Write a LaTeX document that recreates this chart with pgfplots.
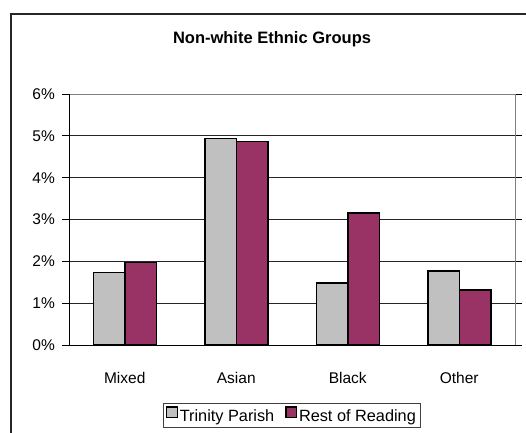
\documentclass[border=0pt]{standalone}
\usepackage{pgfplots}
\pgfplotsset{compat=1.18}
\usepackage{fontspec}
\setmainfont{Liberation Sans}
\definecolor{barGray}{HTML}{C0C0C0}
\definecolor{barMaroon}{HTML}{993366}
\begin{document}
\begin{tikzpicture}[x=1bp,y=1bp]
\useasboundingbox (0,0) rectangle (526,432);
\begin{scope}
\clip (0,0) rectangle (526,432);
\draw[line width=1.5bp, black!85] (11,418) rectangle (560,-20);
\end{scope}
\node[anchor=base, font=\fontsize{16.5bp}{19bp}\selectfont\bfseries] at (272,388.7) {Non-white Ethnic Groups};
\begin{axis}[
  at={(69bp,87bp)}, anchor=south west, scale only axis,
  width=446bp, height=251bp,
  xmin=-0.5, xmax=3.5, ymin=0, ymax=6,
  ybar=0pt, bar width=31.5bp,
  axis line style={draw=none},
  xtick={0,1,2,3},
  xticklabels={Mixed,Asian,Black,Other},
  xtick style={draw=none},
  extra x ticks={-0.5,0.5,1.5,2.5,3.5},
  extra x tick labels={},
  extra x tick style={tick style={draw=black, line width=0.8bp}, major tick length=5bp, grid=none},
  ytick={0,1,2,3,4,5,6},
  yticklabel={\pgfmathprintnumber{\tick}\%},
  tick align=outside,
  ytick style={draw=black, line width=0.8bp},
  major tick length=7bp,
  ymajorgrids, grid style={black!85, line width=0.8bp},
  tick label style={font=\fontsize{15.5bp}{18bp}\selectfont},
  yticklabel style={anchor=east, inner sep=0pt, xshift=-7bp},
  xticklabel style={anchor=base, inner sep=0pt, yshift=-31bp},
  /pgf/number format/assume math mode=true,
  legend style={at={(0.5,-0.233)}, anchor=north, draw=black!75, line width=0.8bp,
    font=\fontsize{16.3bp}{19bp}\selectfont, legend columns=2, inner sep=2.5bp,
    nodes={inner sep=2bp},
    /tikz/every even column/.append style={column sep=9bp}},
  legend image code/.code={\draw[#1, draw=black, line width=1.2bp] (0bp,-1bp) rectangle (10.5bp,9.5bp);},
  clip=false,
]
\addplot[fill=barGray, draw=black, line width=1.5bp] coordinates {(0,1.73) (1,4.94) (2,1.48) (3,1.77)};
\addplot[fill=barMaroon, draw=black, line width=1.5bp] coordinates {(0,1.97) (1,4.86) (2,3.15) (3,1.32)};
\legend{Trinity Parish,Rest of Reading}
\draw[black!50, line width=1bp] (rel axis cs:0,1) -- (rel axis cs:1,1) -- (rel axis cs:1,0);
\draw[black, line width=1bp] (rel axis cs:0,1) -- (rel axis cs:0,0) -- (rel axis cs:1,0);
\end{axis}
\end{tikzpicture}
\end{document}
